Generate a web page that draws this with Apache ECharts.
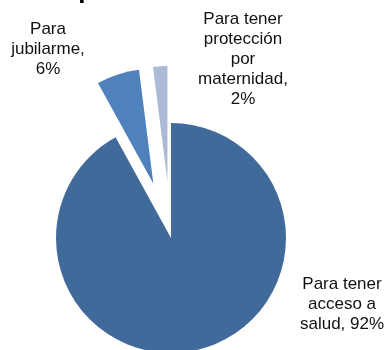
<!DOCTYPE html>
<html>
<head>
<meta charset="utf-8">
<style>
  html, body { margin: 0; padding: 0; background: #ffffff; }
  #chart { width: 385px; height: 350px; }
</style>
<script src="https://cdn.jsdelivr.net/npm/echarts@6/dist/echarts.min.js"></script>
</head>
<body>
<div id="chart"></div>
<script>
// Reasons for contributing (share of answers, %)
const categories = [
  'Para tener\nacceso a\nsalud',
  'Para\njubilarme',
  'Para tener\nprotección\npor\nmaternidad'
];
const shares = [92, 6, 2];
const exploded = [false, true, true];
// whether the percentage goes on its own line under the name
const percentOnNewLine = [false, true, true];
const sliceColors = ['#406A9A', '#4F81BD', '#AABAD7'];
const chartTitle = 'Importancia';

// top centre of each slice's label block
const labelSpots = [
  { x: 342, y: 274 },
  { x: 48, y: 19 },
  { x: 243, y: 9 }
];

const chart = echarts.init(document.getElementById('chart'), null, { renderer: 'canvas' });

const pieData = categories.map((name, i) => ({
  name: name,
  value: shares[i],
  selected: exploded[i],
  itemStyle: { color: sliceColors[i] },
  select: { itemStyle: { color: sliceColors[i] } }
}));

const labelFont = '17px "Liberation Sans", Arial, sans-serif';
const sliceLabels = categories.map((name, i) => ({
  type: 'text',
  x: labelSpots[i].x,
  y: labelSpots[i].y,
  silent: true,
  style: {
    text: name + ',' + (percentOnNewLine[i] ? '\n' : ' ') + shares[i] + '%',
    font: labelFont,
    lineHeight: 20,
    fill: '#111111',
    align: 'center',
    verticalAlign: 'top'
  }
}));

chart.setOption({
  animation: false,
  graphic: [{
    type: 'text',
    x: 48,
    y: -22,
    silent: true,
    style: {
      text: chartTitle,
      font: 'bold 26px "Liberation Sans", Arial, sans-serif',
      fill: '#000000',
      align: 'left',
      verticalAlign: 'top'
    }
  }].concat(sliceLabels),
  series: [{
    type: 'pie',
    center: [171, 238],
    radius: [0, 115],
    startAngle: 90,
    clockwise: true,
    selectedMode: 'multiple',
    selectedOffset: 57,
    avoidLabelOverlap: false,
    emphasis: { disabled: true },
    itemStyle: { borderWidth: 0 },
    label: { show: false },
    labelLine: { show: false },
    data: pieData
  }]
});
</script>
</body>
</html>
